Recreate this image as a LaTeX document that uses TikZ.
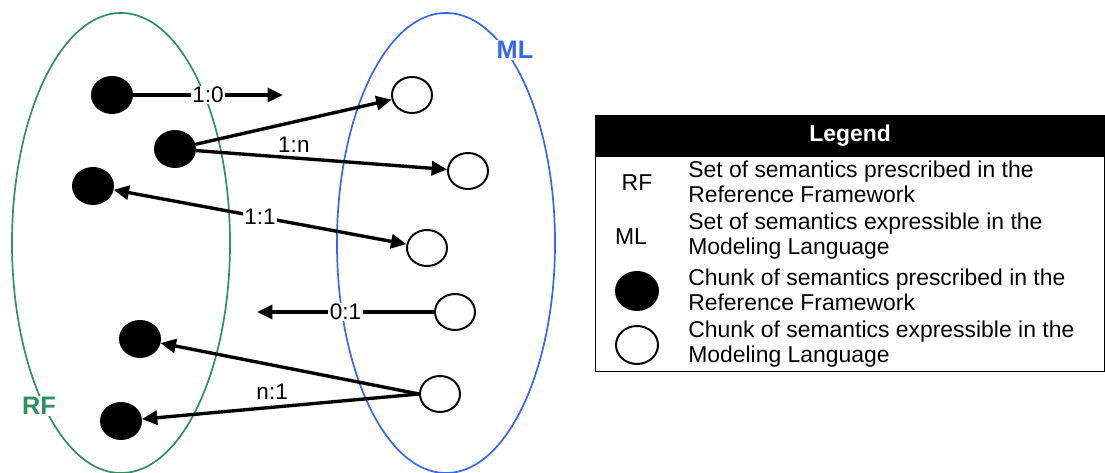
\documentclass[tikz,border=0pt]{standalone}
\usepackage{fontspec}
\setmainfont{Liberation Sans}
\usepackage{xcolor}
\usetikzlibrary{
    arrows.meta,
    positioning,
    shapes.geometric
}
\definecolor{rfgreen}{RGB}{46, 145, 95}
\definecolor{mlblue}{RGB}{51, 102, 255}

\begin{document}
\begin{tikzpicture}[
        x=0.025cm, y=-0.025cm,
        chunk/.style={draw, ellipse, line width=1.4pt, minimum width=1cm, minimum height=0.9cm, inner sep=0pt},
        rfchunk/.style={chunk, fill=black},
        mlchunk/.style={chunk, fill=white},
        semset/.style={draw, ellipse, line width=1.2pt, minimum width=5.45cm, minimum height=11.5cm, inner sep=0pt},
        link/.style={line width=2.4pt, -{Triangle[length=11pt, width=10pt]}},
        ratio/.style={fill=white, inner sep=1pt, font=\fontsize{16}{18}\selectfont},
        setlabel/.style={fill=white, inner sep=1pt, font=\fontsize{18}{20}\selectfont\bfseries},
        txt/.style={font=\fontsize{16.3}{17.8}\selectfont}
    ]
        \useasboundingbox (0,0) rectangle (1105,473);

        % Sets
        \node[semset, rfgreen] (rfset) at (121,243) {};
        \node[semset, mlblue] (mlset) at (446,243) {};
        \node[setlabel, text=rfgreen] (rflabel) at (39,406) {RF};
        \node[setlabel, text=mlblue] (mllabel) at (515,50) {ML};

        % Chunks
        \node[rfchunk] (rf1) at (112,95) {};
        \node[rfchunk] (rf2) at (175,149) {};
        \node[rfchunk] (rf3) at (93,186) {};
        \node[rfchunk] (rf4) at (140,339) {};
        \node[rfchunk] (rf5) at (121,421) {};
        \node[mlchunk] (ml1) at (412,95) {};
        \node[mlchunk] (ml2) at (468,171) {};
        \node[mlchunk] (ml3) at (427,248) {};
        \node[mlchunk] (ml4) at (455,312) {};
        \node[mlchunk] (ml5) at (440,394) {};
        \coordinate (to10) at (283,95);
        \coordinate (to01) at (257,312);

        % Mappings
        \draw[link] (rf1) -- node[ratio] {1:0} (to10);
        \draw[link] (rf2) -- (ml1);
        \draw[link] (rf2) -- node[ratio, pos=0.39, above=2pt, fill=none] {1:n} (ml2);
        \draw[link, {Triangle[length=11pt, width=10pt]}-{Triangle[length=11pt, width=10pt]}] (rf3) -- node[ratio] {1:1} (ml3);
        \draw[link] (ml4) -- node[ratio] {0:1} (to01);
        \draw[link] (ml5.west) -- (rf4);
        \draw[link] (ml5.west) -- node[ratio, pos=0.53, above=3pt, fill=none] {n:1} (rf5);

        % Legend
        \node[draw, fill=black, text=white, font=\fontsize{16.3}{18}\selectfont\bfseries, minimum width=12.725cm, minimum height=1.025cm, inner sep=0pt] (lhead) at (850,135.5) {Legend};
        \node[draw, line width=0.8pt, minimum width=12.725cm, minimum height=5.375cm, inner sep=0pt, below=0pt of lhead] (lbody) {};
        \node[txt] (krf) at (637,183) {RF};
        \node[txt] (kml) at (631,237) {ML};
        \node[rfchunk, minimum width=1.05cm, minimum height=0.95cm] (krfc) at (637,291) {};
        \node[mlchunk, minimum width=1.05cm, minimum height=0.95cm] (kmlc) at (637,345) {};
        \node[txt, anchor=west, align=left, inner sep=0pt] (drf) at (688,182) {Set of semantics prescribed in the\\Reference Framework};
        \node[txt, anchor=west, align=left, inner sep=0pt] (dml) at (688,236) {Set of semantics expressible in the\\Modeling Language};
        \node[txt, anchor=west, align=left, inner sep=0pt] (drfc) at (688,290) {Chunk of semantics prescribed in the\\Reference Framework};
        \node[txt, anchor=west, align=left, inner sep=0pt] (dmlc) at (688,344) {Chunk of semantics expressible in the\\Modeling Language};
    \end{tikzpicture}
\end{document}
